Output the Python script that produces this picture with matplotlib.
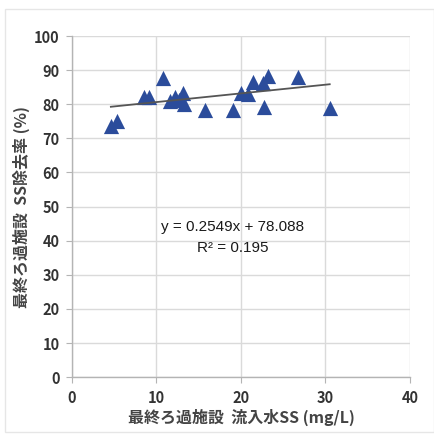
import matplotlib
matplotlib.use("Agg")
import matplotlib.pyplot as plt
from matplotlib.patches import Rectangle
import numpy as np

plt.rcParams['font.family'] = ['Noto Sans CJK JP', 'DejaVu Sans']

x_ss = [4.6, 5.3, 8.5, 9.1, 10.8, 11.6, 12.2, 13.1, 12.7, 13.2, 15.7, 19.0,
        20.0, 20.8, 21.4, 22.6, 23.2, 22.7, 26.7, 30.5]
y_rem = [73.5, 75.1, 82.2, 82.2, 87.7, 81.0, 82.2, 83.2, 81.2, 80.0, 78.2, 78.2,
         83.4, 83.0, 86.4, 86.1, 88.4, 79.2, 88.1, 78.8]
slope = 0.2549
intercept = 78.088
eq_text = "y = 0.2549x + 78.088"
r2_text = "R² = 0.195"
xticks = [0, 10, 20, 30, 40]
yticks = [0, 10, 20, 30, 40, 50, 60, 70, 80, 90, 100]
xlabel = "最終ろ過施設  流入水SS (mg/L)"
ylabel = "最終ろ過施設  SS除去率 (%)"

fig = plt.figure(figsize=(4.35, 4.34), dpi=100)
fig.patches.append(Rectangle((0.012, 0.005), 0.985, 0.975, transform=fig.transFigure,
                             fill=False, edgecolor='#e6e6e6', linewidth=1.0))
ax = fig.add_axes([0.1655, 0.131, 0.777, 0.786])

ax.set_xlim(0, 40)
ax.set_ylim(0, 100)
ax.set_xticks(xticks)
ax.set_yticks(yticks)
ax.grid(True, color='#dadada', linewidth=1.0)
ax.set_axisbelow(True)
for s in ['top', 'right']:
    ax.spines[s].set_visible(False)
for s in ['left', 'bottom']:
    ax.spines[s].set_color('#b4b4b4')
    ax.spines[s].set_linewidth(1.0)
ax.tick_params(direction='out', length=4, color='#b4b4b4', labelsize=10.5,
               labelcolor='#333333', pad=5)
for lab in ax.get_xticklabels() + ax.get_yticklabels():
    lab.set_fontweight('bold')

ax.scatter(x_ss, y_rem, marker='^', s=120, color='#2b4c9b', zorder=3, linewidths=0)

xs = np.array([min(x_ss), max(x_ss)])
ax.plot(xs, slope * xs + intercept, color='#555555', linewidth=1.3, zorder=4)

ax.text(0.476, 0.44, eq_text, transform=ax.transAxes, ha='center', va='center',
        fontsize=11, color='#1a1a1a', family=['Liberation Sans'])
ax.text(0.476, 0.378, r2_text, transform=ax.transAxes, ha='center', va='center',
        fontsize=11, color='#1a1a1a', family=['Liberation Sans'])

ax.set_xlabel(xlabel, fontsize=11.5, color='#444444', fontweight='bold', labelpad=2)
ax.set_ylabel(ylabel, fontsize=11.5, color='#444444', fontweight='bold', labelpad=3)

fig.savefig('out.png', dpi=100, facecolor='white')
